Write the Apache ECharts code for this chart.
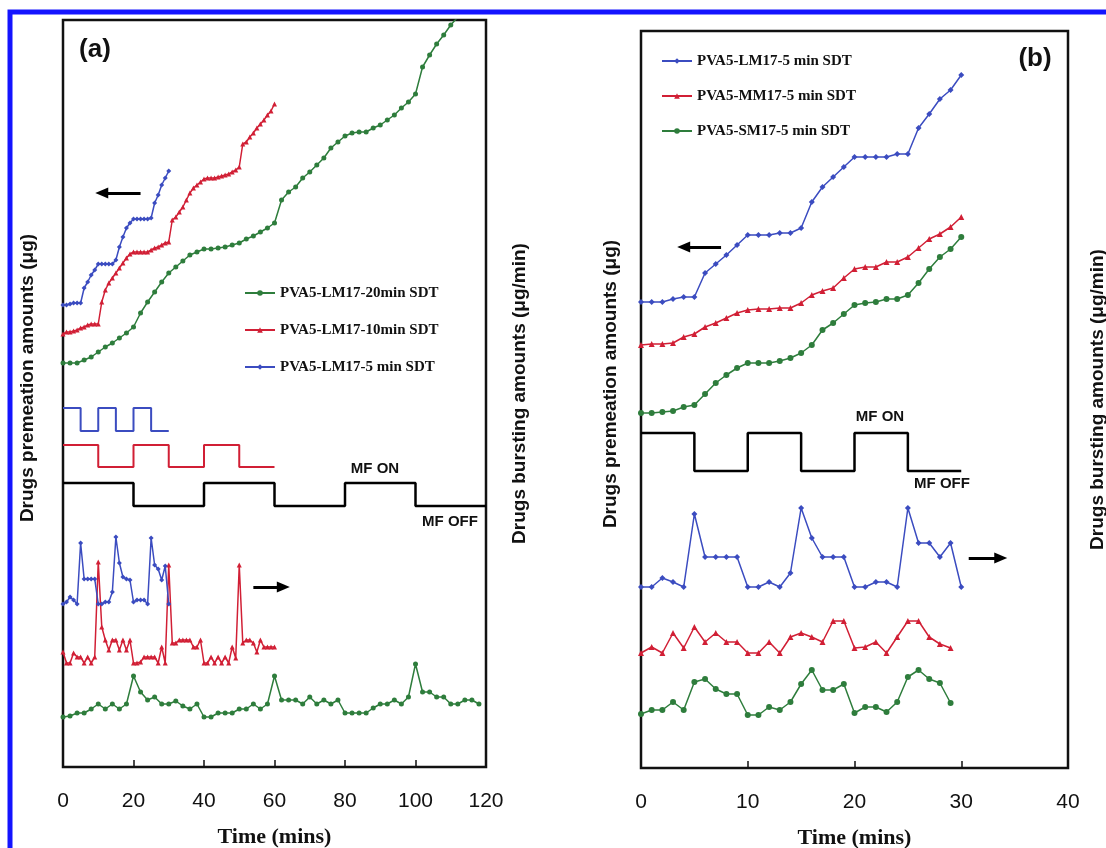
<!DOCTYPE html>
<html>
<head>
<meta charset="utf-8">
<script src="https://cdn.jsdelivr.net/npm/echarts@6/dist/echarts.min.js"></script>
<style>
  html, body { margin: 0; padding: 0; background: #fff; }
  #chart { width: 1106px; height: 848px; }
</style>
</head>
<body>
<div id="chart"></div>
<script>
// sampling times (minutes)
function range(a, b, step) {
  var out = [];
  for (var t = a; t <= b; t += step) out.push(t);
  return out;
}

// ---- panel (a): values, arbitrary units (axes carry no numbers)
var aTime5 = range(0, 30, 1);
var aCum5 = [462,462,463,464,464,464,479,485,492,497,503,503,503,503,503,507,520,530,539,544,548,548,548,548,548,549,564,572,582,589,596];
var aTime10 = range(0, 60, 1);
var aCum10 = [433,435,435,436,437,439,440,442,443,443,443,465,477,484,489,494,499,504,509,513,515,
  515,515,515,515,517,519,520,522,524,525,547,550,555,560,567,574,579,582,585,588,
  589,589,589,590,591,592,593,595,597,600,623,625,630,634,639,643,647,652,656,663];
var aTime20 = range(0, 114, 2);
var aCum20 = [404,404,404,407,410,415,420,424,429,434,440,454,465,475,485,494,500,506,512,515,518,
  518,519,520,522,524,528,531,535,539,544,567,575,580,589,595,602,609,619,625,631,
  634,635,635,639,642,647,652,659,665,673,700,712,723,732,742,750,758];

var aBurst5 = [163,165,170,167,163,224,188,188,188,188,163,163,165,165,175,230,204,190,188,187,
  165,167,167,167,163,229,202,198,187,201,163];
var aBurst10 = [115,104,104,114,110,110,104,110,104,110,205,140,127,117,127,127,117,127,117,127,
  104,104,105,110,110,110,110,104,120,104,202,124,124,127,127,127,127,120,120,127,
  104,104,110,104,110,104,110,104,120,109,202,124,127,127,124,115,127,120,120,120,120];
var aBurstTime20 = range(0, 118, 2);
var aBurst20 = [50,51,54,54,58,63,58,63,58,63,91,75,67,70,63,63,66,61,58,63,
  50,50,54,54,54,58,58,63,58,63,91,67,67,67,63,70,63,67,63,67,
  54,54,54,54,59,63,63,67,63,70,103,75,75,70,70,63,63,67,67,63];

// magnetic field on/off programmes (1 = ON)
var mfTimeA5 = [0, 5, 10, 15, 20, 25, 30];
var mfTimeA10 = [0, 10, 20, 30, 40, 50, 60];
var mfTimeA20 = [0, 20, 40, 60, 80, 100, 120];
var mfState = [1, 0, 1, 0, 1, 0, 0];
var mfLevelA5 = [336, 359];
var mfLevelA10 = [300, 322];
var mfLevelA20 = [261, 284];

// ---- panel (b)
var bTime = range(0, 30, 1);
var bTimeShort = range(0, 29, 1);
var bCumL = [466,466,466,469,471,471,495,504,513,523,533,533,533,535,535,540,566,581,591,601,611,611,611,611,614,614,640,654,669,678,693];
var bCumM = [423,424,424,425,431,434,441,445,450,455,458,459,459,460,460,465,473,477,480,490,499,501,501,506,506,511,520,529,534,541,551];
var bCumS = [355,355,356,357,361,363,374,385,393,400,405,405,405,407,410,415,423,438,445,454,463,465,466,469,469,473,485,499,511,519,531];
var bBurstL = [181,181,190,186,181,254,211,211,211,211,181,181,186,181,195,260,230,211,211,211,181,181,186,186,181,260,225,225,211,225,181];
var bBurstM = [115,121,115,135,120,141,126,135,126,126,115,115,126,115,131,135,131,126,147,147,120,121,126,115,131,147,147,131,124,120];
var bBurstS = [54,58,58,66,58,86,89,79,74,74,53,53,61,58,66,84,98,78,78,84,55,61,61,56,66,91,98,89,85,65];
var mfTimeB = [0, 5, 10, 15, 20, 25, 30];
var mfLevelB = [297, 335];

var BLUE = '#3b4cc0', RED = '#d11f35', GREEN = '#2e7d3c';

function pairs(t, v) {
  return t.map(function (x, i) { return [x, v[i]]; });
}

function curve(name, grid, yIdx, t, v, color, symbol, size) {
  return {
    name: name, type: 'line', xAxisIndex: grid, yAxisIndex: yIdx,
    data: pairs(t, v), symbol: symbol, symbolSize: size,
    showAllSymbol: true,
    itemStyle: { color: color },
    lineStyle: { color: color, width: 1.5 },
    emphasis: { disabled: true }
  };
}

function steps(name, grid, yIdx, t, levels, color, w) {
  var v = mfState.map(function (s) { return levels[s]; });
  return {
    name: name, type: 'line', step: 'end', xAxisIndex: grid, yAxisIndex: yIdx,
    data: pairs(t, v), symbol: 'none',
    lineStyle: { color: color, width: w }
  };
}

function arrows(grid, yIdx, lines) {
  return {
    name: 'arrows' + grid, type: 'line', xAxisIndex: grid, yAxisIndex: yIdx, data: [],
    markLine: {
      silent: true, symbol: ['none', 'triangle'], symbolSize: [11, 13],
      label: { show: false },
      lineStyle: { color: '#000', width: 3, type: 'solid' },
      data: lines.map(function (l) { return [{ coord: l[0] }, { coord: l[1] }]; })
    }
  };
}

var sans = 'Liberation Sans, Arial, sans-serif';
var serif = 'Liberation Serif, Times New Roman, serif';

function xAxisCfg(grid, max, interval) {
  return {
    type: 'value', gridIndex: grid, min: 0, max: max, interval: interval,
    axisLine: { show: false },
    axisTick: { inside: true, length: 7, lineStyle: { color: '#111', width: 1.5 } },
    axisLabel: { fontSize: 21, color: '#111', margin: 24, fontFamily: sans },
    splitLine: { show: false },
    name: 'Time (mins)', nameLocation: 'middle', nameGap: 59,
    nameTextStyle: { fontFamily: serif, fontWeight: 'bold', fontSize: 22, color: '#111' }
  };
}

function yAxisCfg(grid, max, pos, name, gap, pad) {
  return {
    type: 'value', gridIndex: grid, min: 0, max: max, position: pos,
    axisLine: { show: false }, axisTick: { show: false }, axisLabel: { show: false },
    splitLine: { show: false },
    name: name, nameLocation: 'middle', nameGap: gap,
    nameTextStyle: { fontFamily: sans, fontWeight: 'bold', fontSize: 19, color: '#111', padding: pad }
  };
}

var legendText = { fontFamily: serif, fontWeight: 'bold', fontSize: 15, color: '#111', lineHeight: 16 };

var chart = echarts.init(document.getElementById('chart'));
chart.setOption({
  animation: false,
  backgroundColor: '#fff',
  grid: [
    { left: 63, top: 20, width: 423, height: 747, outerBoundsMode: 'none', show: true, borderColor: '#111', borderWidth: 2.5 },
    { left: 641, top: 31, width: 427, height: 737, outerBoundsMode: 'none', show: true, borderColor: '#111', borderWidth: 2.5 }
  ],
  xAxis: [xAxisCfg(0, 120, 20), xAxisCfg(1, 40, 10)],
  yAxis: [
    yAxisCfg(0, 747, 'left', 'Drugs premeation amounts (\u03bcg)', 26, [0, 0, 0, 31]),
    yAxisCfg(0, 747, 'right', 'Drugs bursting amounts (\u03bcg/min)', 24, 0),
    yAxisCfg(1, 737, 'left', 'Drugs premeation amounts (\u03bcg)', 21, [0, 0, 0, 31]),
    yAxisCfg(1, 737, 'right', 'Drugs bursting amounts (\u03bcg/min)', 20, 0)
  ],
  legend: [
    {
      left: 244, top: 285, padding: 0, orient: 'vertical', itemWidth: 30, itemHeight: 7, itemGap: 21,
      textStyle: legendText,
      data: ['PVA5-LM17-20min SDT', 'PVA5-LM17-10min SDT', 'PVA5-LM17-5 min SDT']
    },
    {
      left: 661, top: 53, padding: 0, orient: 'vertical', itemWidth: 30, itemHeight: 7, itemGap: 19,
      textStyle: legendText,
      data: ['PVA5-LM17-5 min SDT', 'PVA5-MM17-5 min SDT', 'PVA5-SM17-5 min SDT']
    }
  ],
  graphic: [
    { type: 'rect', silent: true, shape: { x: 10, y: 12, width: 1200, height: 900 },
      style: { fill: 'none', stroke: '#1414ff', lineWidth: 5 } },
    { type: 'text', x: 95, y: 50, style: { text: '(a)', font: 'bold 26px ' + sans, fill: '#111', align: 'center', verticalAlign: 'middle' } },
    { type: 'text', x: 1035, y: 59, style: { text: '(b)', font: 'bold 26px ' + sans, fill: '#111', align: 'center', verticalAlign: 'middle' } },
    { type: 'text', x: 375, y: 469, style: { text: 'MF ON', font: 'bold 15px ' + sans, fill: '#111', align: 'center', verticalAlign: 'middle' } },
    { type: 'text', x: 450, y: 522, style: { text: 'MF OFF', font: 'bold 15px ' + sans, fill: '#111', align: 'center', verticalAlign: 'middle' } },
    { type: 'text', x: 880, y: 417, style: { text: 'MF ON', font: 'bold 15px ' + sans, fill: '#111', align: 'center', verticalAlign: 'middle' } },
    { type: 'text', x: 942, y: 484, style: { text: 'MF OFF', font: 'bold 15px ' + sans, fill: '#111', align: 'center', verticalAlign: 'middle' } }
  ],
  series: [
    // panel (a) cumulative permeation
    curve('PVA5-LM17-20min SDT', 0, 0, aTime20, aCum20, GREEN, 'circle', 5),
    curve('PVA5-LM17-10min SDT', 0, 0, aTime10, aCum10, RED, 'triangle', 5),
    curve('PVA5-LM17-5 min SDT', 0, 0, aTime5, aCum5, BLUE, 'diamond', 5),
    // panel (a) bursting amounts
    curve('PVA5-LM17-20min SDT', 0, 1, aBurstTime20, aBurst20, GREEN, 'circle', 5),
    curve('PVA5-LM17-10min SDT', 0, 1, aTime10, aBurst10, RED, 'triangle', 5),
    curve('PVA5-LM17-5 min SDT', 0, 1, aTime5, aBurst5, BLUE, 'diamond', 5),
    // panel (a) MF programmes
    steps('MF a5', 0, 0, mfTimeA5, mfLevelA5, BLUE, 2),
    steps('MF a10', 0, 0, mfTimeA10, mfLevelA10, RED, 2),
    steps('MF a20', 0, 0, mfTimeA20, mfLevelA20, '#000', 2.5),
    arrows(0, 0, [[[22, 574], [11, 574]], [[54, 180], [62.5, 180]]]),

    // panel (b)
    curve('PVA5-LM17-5 min SDT', 1, 2, bTime, bCumL, BLUE, 'diamond', 6),
    curve('PVA5-MM17-5 min SDT', 1, 2, bTime, bCumM, RED, 'triangle', 6),
    curve('PVA5-SM17-5 min SDT', 1, 2, bTime, bCumS, GREEN, 'circle', 6),
    curve('PVA5-LM17-5 min SDT', 1, 3, bTime, bBurstL, BLUE, 'diamond', 6),
    curve('PVA5-MM17-5 min SDT', 1, 3, bTimeShort, bBurstM, RED, 'triangle', 6),
    curve('PVA5-SM17-5 min SDT', 1, 3, bTimeShort, bBurstS, GREEN, 'circle', 6),
    steps('MF b', 1, 2, mfTimeB, mfLevelB, '#000', 2.5),
    arrows(1, 2, [[[7.5, 521], [4, 521]], [[30.7, 210], [33.7, 210]]])
  ]
});
</script>
</body>
</html>
